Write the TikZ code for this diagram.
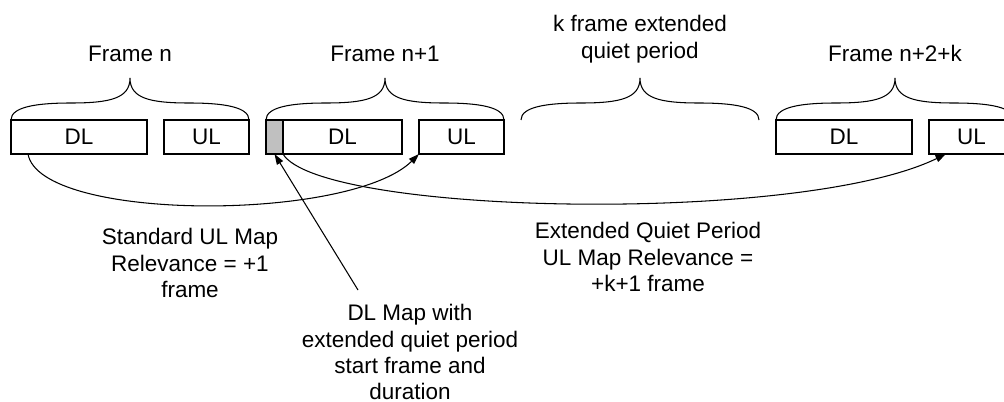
\documentclass[tikz,border=0pt]{standalone}
\usepackage{fontspec}
\setmainfont{Liberation Sans}
\usepackage{tikz}
\usetikzlibrary{arrows.meta}
\definecolor{mapgray}{RGB}{192,192,192}
\tikzset{
  lbl/.style={font=\fontsize{12.8}{14.9}\selectfont, inner sep=0pt},
  blk/.style={lbl, draw, minimum height=0.68cm, outer sep=0pt, anchor=north west},
  arr/.style={-{Triangle[length=6pt,width=4pt]}}
}

\begin{document}
\begin{tikzpicture}[x=0.02cm, y=-0.02cm, line width=0.6pt]
\useasboundingbox (0,0) rectangle (1004,402);
\clip (0,0) rectangle (1004,402);
% frame n
\node[blk, minimum width=2.72cm] (dln) at (11,120) {DL};
\node[blk, minimum width=1.7cm] (uln) at (164,120) {UL};
% frame n+1
\node[blk, minimum width=0.34cm, fill=mapgray] (dlmap) at (266,120) {};
\node[blk, minimum width=2.38cm] (dlnn) at (283,120) {DL};
\node[blk, minimum width=1.7cm] (ulnn) at (419,120) {UL};
% frame n+2+k
\node[blk, minimum width=2.72cm] (dlk) at (776,120) {DL};
\node[blk, minimum width=1.7cm] (ulk) at (929,120) {UL};
% braces
\foreach \a in {11,266,521,776}
  \draw (\a,120) .. controls (\a,107) and (\a+25,103) .. (\a+60,103) .. controls (\a+100,103) and (\a+119,98) .. (\a+119,78) .. controls (\a+119,98) and (\a+138,103) .. (\a+178,103) .. controls (\a+213,103) and (\a+238,107) .. (\a+238,120);
% labels
\node[lbl, anchor=base] (fn) at (130,62) {Frame n};
\node[lbl, anchor=base] (fnn) at (385,62) {Frame n+1};
\node[lbl, anchor=north, align=center] (quiet) at (640,15) {k frame extended\\quiet period};
\node[lbl, anchor=base] (fnk) at (895,62) {Frame n+2+k};
\node[lbl, anchor=north, align=center] (std) at (190,228) {Standard UL Map\\Relevance = +1\\frame};
\node[lbl, anchor=north, align=center] (ext) at (648,222) {Extended Quiet Period\\UL Map Relevance =\\+k+1 frame};
\node[lbl, anchor=north, align=center] (dlmaptxt) at (410,304) {DL Map with\\extended quiet period\\start frame and\\duration};
% connectors
\draw[arr] ([xshift=0.34cm]dln.south west) .. controls +(12,68) and +(-69,68) .. (ulnn.south west);
\draw[arr] (dlmap.south east) .. controls +(37,61) and +(-146,71) .. ([xshift=0.34cm]ulk.south west);
\coordinate (tail) at (358,290);
\draw[arr] (tail) -- (dlmap.south);
\end{tikzpicture}
\end{document}
